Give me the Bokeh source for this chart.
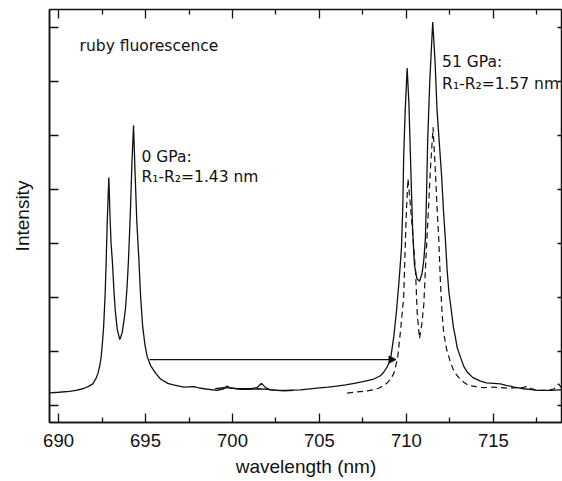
from bokeh.plotting import figure
from bokeh.models import Range1d, LinearAxis, Label, Arrow, NormalHead, FixedTicker
from bokeh.embed import file_html
from bokeh.resources import INLINE

# ---- data ----
# 0 GPa spectrum (solid)
wl_0gpa = [689.48, 690.0, 690.63, 691.0, 691.4, 691.7, 691.97, 692.15, 692.26, 692.38,
           692.45, 692.52, 692.59, 692.68, 692.74, 692.80, 692.89, 692.96, 693.02, 693.09,
           693.18, 693.26, 693.38, 693.52, 693.66, 693.77, 693.85, 693.94, 694.02, 694.12,
           694.22, 694.31, 694.40, 694.50, 694.62, 694.72, 694.84, 694.97, 695.10, 695.29,
           695.6, 695.86, 696.28, 696.6, 697.2, 697.78, 698.0, 698.35, 699.12, 699.5,
           699.69, 699.9, 700.27, 701.03, 701.4, 701.67, 701.9, 702.18, 702.95, 703.5]
int_0gpa = [0.235, 0.245, 0.26, 0.28, 0.31, 0.35, 0.40, 0.50, 0.59, 0.75,
            0.90, 1.15, 1.45, 2.07, 2.69, 3.40, 4.22, 3.50, 3.00, 2.69,
            2.15, 1.76, 1.40, 1.22, 1.35, 1.60, 1.80, 2.20, 2.69, 3.50,
            4.50, 5.19, 4.30, 3.40, 2.69, 2.00, 1.45, 1.12, 0.90, 0.74,
            0.59, 0.49, 0.41, 0.38, 0.34, 0.35, 0.33, 0.31, 0.28, 0.31,
            0.36, 0.32, 0.31, 0.31, 0.33, 0.41, 0.33, 0.29, 0.27, 0.28]

# 51 GPa spectrum (solid)
wl_51gpa = [699.0, 699.5, 700.0, 700.5, 701.0, 701.5, 702.0, 702.5, 703.0, 703.9,
            704.87, 705.5, 706.0, 706.5, 707.0, 707.5, 708.12, 708.5, 708.7, 708.9,
            709.08, 709.27, 709.43, 709.56, 709.71, 709.79, 709.84, 709.92, 710.04, 710.14,
            710.23, 710.35, 710.46, 710.6, 710.75, 710.9, 711.0, 711.09, 711.16, 711.22,
            711.34, 711.51, 711.64, 711.76, 711.88, 712.01, 712.13, 712.24, 712.34, 712.44,
            712.53, 712.7, 712.82, 712.91, 713.1, 713.3, 713.49, 713.8, 714.25, 714.6,
            715.02, 715.4, 715.79, 716.2, 716.74, 717.1, 717.51, 718.28, 718.85, 719.0]
int_51gpa = [0.31, 0.33, 0.32, 0.30, 0.30, 0.31, 0.30, 0.28, 0.28, 0.29,
             0.32, 0.34, 0.36, 0.38, 0.41, 0.44, 0.49, 0.55, 0.62, 0.72,
             0.85, 1.27, 1.76, 2.25, 2.90, 3.67, 4.60, 5.40, 6.25, 5.60,
             4.60, 3.30, 2.60, 2.35, 2.30, 2.45, 2.70, 3.10, 4.00, 4.91,
             6.00, 7.10, 6.40, 5.46, 4.90, 4.30, 3.60, 3.06, 2.50, 2.10,
             1.88, 1.45, 1.25, 1.08, 0.90, 0.72, 0.62, 0.52, 0.45, 0.42,
             0.41, 0.40, 0.37, 0.34, 0.31, 0.30, 0.28, 0.28, 0.29, 0.29]

# 0 GPa spectrum drawn at the 51 GPa position (dashed)
wl_shifted = [706.59, 707.0, 707.74, 708.1, 708.4, 708.7, 708.9, 709.1, 709.27, 709.4,
              709.5, 709.58, 709.66, 709.75, 709.84, 709.94, 710.01, 710.09, 710.2, 710.32,
              710.42, 710.52, 710.62, 710.75, 710.88, 711.0, 711.1, 711.22, 711.38, 711.53,
              711.6, 711.67, 711.77, 711.86, 711.95, 712.05, 712.14, 712.3, 712.53, 712.75,
              713.0, 713.3, 713.58, 714.0, 714.44, 715.0, 715.4, 715.9, 716.36, 716.7,
              716.93, 717.1, 717.51, 718.0, 718.28, 718.5, 718.75, 718.9, 719.0]
int_shifted = [0.23, 0.245, 0.27, 0.29, 0.32, 0.37, 0.42, 0.50, 0.59, 0.75,
               0.90, 1.15, 1.39, 1.70, 2.00, 3.06, 3.70, 4.20, 3.80, 3.36,
               2.90, 2.50, 1.70, 1.24, 1.50, 1.88, 2.60, 3.36, 4.40, 5.15,
               4.70, 4.29, 3.60, 3.06, 2.30, 1.70, 1.35, 1.05, 0.80, 0.62,
               0.52, 0.43, 0.37, 0.35, 0.33, 0.34, 0.33, 0.32, 0.33, 0.33,
               0.36, 0.32, 0.28, 0.28, 0.29, 0.31, 0.40, 0.33, 0.30]

x_major_ticks = [690, 695, 700, 705, 710, 715]
x_minor_ticks = [692.5, 697.5, 702.5, 707.5, 712.5, 717.5]
y_major_ticks = [0, 1, 2, 3, 4, 5, 6, 7]

shift_arrow_x = [695.23, 709.40]
shift_arrow_y = 0.85

# ---- figure ----
FONT_AX = "Liberation Sans"
FONT_TX = "DejaVu Sans"
INK = "#111111"

p = figure(width=562, height=481,
           x_range=Range1d(689.48, 718.97), y_range=Range1d(-0.315, 7.333),
           output_backend="svg", toolbar_location=None,
           min_border_left=49, min_border_right=0, min_border_top=9, min_border_bottom=59)
p.grid.visible = False
p.outline_line_color = INK
p.outline_line_width = 1.5
p.background_fill_color = "white"
p.border_fill_color = "white"

xt = FixedTicker(ticks=x_major_ticks, minor_ticks=x_minor_ticks)
yt = FixedTicker(ticks=y_major_ticks, minor_ticks=[])

xa = p.xaxis[0]
xa.ticker = xt
xa.axis_label = "wavelength (nm)"
xa.axis_label_text_font = FONT_AX
xa.axis_label_text_font_size = "19px"
xa.axis_label_text_font_style = "normal"
xa.axis_label_text_color = INK
xa.axis_label_standoff = 6
xa.major_label_text_font = FONT_AX
xa.major_label_text_font_size = "18.5px"
xa.major_label_text_color = INK
xa.major_label_standoff = 11
xa.major_tick_in = 9
xa.major_tick_out = 0
xa.minor_tick_in = 5
xa.minor_tick_out = 0
xa.axis_line_width = 1.5
xa.axis_line_color = INK
xa.major_tick_line_color = INK
xa.minor_tick_line_color = INK
xa.major_tick_line_width = 1.3
xa.minor_tick_line_width = 1.3

ya = p.yaxis[0]
ya.ticker = yt
ya.axis_label = "Intensity"
ya.axis_label_text_font = FONT_AX
ya.axis_label_text_font_size = "19px"
ya.axis_label_text_font_style = "normal"
ya.axis_label_text_color = INK
ya.axis_label_standoff = 17
ya.major_label_overrides = {t: "" for t in y_major_ticks}
ya.major_label_text_font_size = "0px"
ya.major_label_standoff = 0
ya.major_tick_in = 9
ya.major_tick_out = 0
ya.minor_tick_in = 0
ya.minor_tick_out = 0
ya.axis_line_width = 1.5
ya.axis_line_color = INK
ya.major_tick_line_color = INK
ya.major_tick_line_width = 1.3

top = LinearAxis(ticker=FixedTicker(ticks=x_major_ticks, minor_ticks=x_minor_ticks),
                 major_label_overrides={t: "" for t in x_major_ticks},
                 major_label_text_font_size="0px", major_label_standoff=0,
                 major_tick_in=9, major_tick_out=0, minor_tick_in=5, minor_tick_out=0,
                 major_tick_line_color=INK, minor_tick_line_color=INK,
                 major_tick_line_width=1.3, minor_tick_line_width=1.3,
                 axis_line_color=None)
p.add_layout(top, "above")

right = LinearAxis(ticker=FixedTicker(ticks=y_major_ticks, minor_ticks=[]),
                   major_label_overrides={t: "" for t in y_major_ticks},
                   major_label_text_font_size="0px", major_label_standoff=0,
                   major_tick_in=5, major_tick_out=0, minor_tick_in=0, minor_tick_out=0,
                   major_tick_line_color=INK, major_tick_line_width=1.3,
                   axis_line_color=None)
p.add_layout(right, "right")

# spectra
p.line(wl_0gpa, int_0gpa, line_color=INK, line_width=1.3)
p.line(wl_51gpa, int_51gpa, line_color=INK, line_width=1.3)
p.line(wl_shifted, int_shifted, line_color=INK, line_width=1.2, line_dash="6 4")

# arrow
p.add_layout(Arrow(end=NormalHead(size=7, fill_color=INK, line_color=INK, line_width=1),
                   x_start=shift_arrow_x[0], y_start=shift_arrow_y,
                   x_end=shift_arrow_x[1], y_end=shift_arrow_y,
                   line_color=INK, line_width=1.2))

# annotations
def lab(x, y, t):
    p.add_layout(Label(x=x, y=y, text=t, text_font=FONT_TX, text_font_size="15.5px",
                       text_color=INK, text_align="left", text_baseline="alphabetic"))

lab(691.21, 6.654, "ruby fluorescence")
lab(694.77, 4.60, "0 GPa:")
lab(694.77, 4.24, "R\u2081-R\u2082=1.43 nm")
lab(712.05, 6.36, "51 GPa:")
lab(712.05, 5.96, "R\u2081-R\u2082=1.57 nm")

open("out.html", "w").write(file_html(p, INLINE))
